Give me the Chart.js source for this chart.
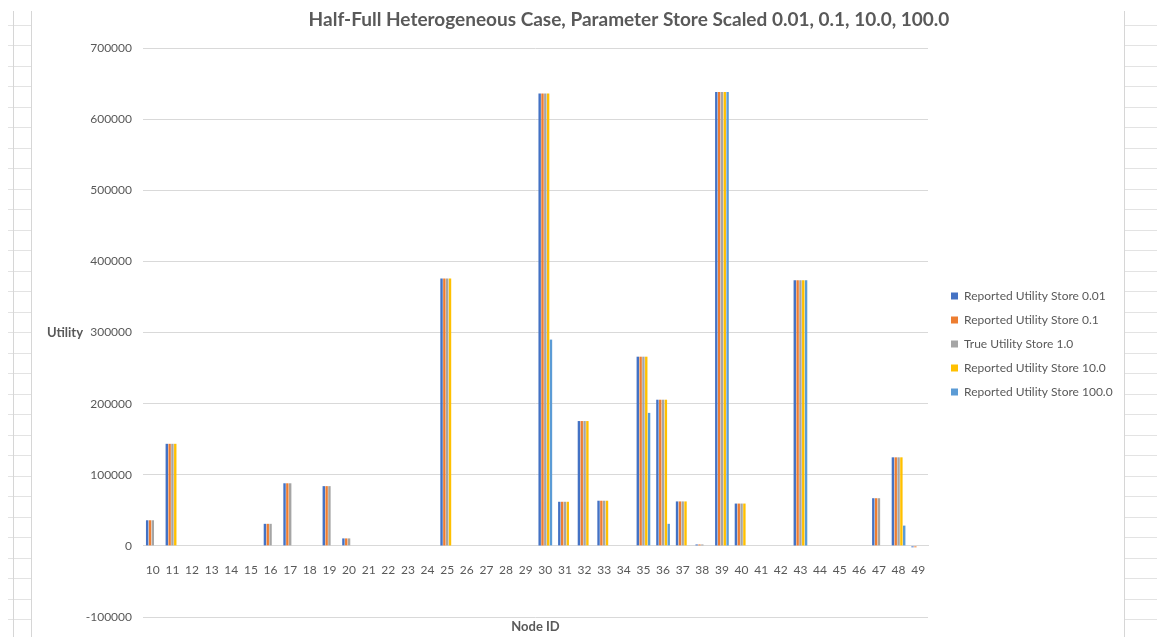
<!DOCTYPE html>
<html>
<head>
<meta charset="utf-8">
<script src="https://cdn.jsdelivr.net/npm/chart.js@4/dist/chart.umd.min.js"></script>
<style>
  html, body { margin: 0; padding: 0; background: #ffffff; }
  #wrap { position: relative; width: 1157px; height: 637px; }
</style>
</head>
<body>
<div id="wrap"><canvas id="chart" width="1157" height="637"></canvas></div>
<script>
// Node IDs along the horizontal axis
const nodeIds = ['10','11','12','13','14','15','16','17','18','19',
                 '20','21','22','23','24','25','26','27','28','29',
                 '30','31','32','33','34','35','36','37','38','39',
                 '40','41','42','43','44','45','46','47','48','49'];

// Utility per node for each store scaling
const reportedStore001 = [36000,143500,0,0,0,0,31000,88000,0,84000,
                          10500,0,0,0,0,376000,0,0,0,0,
                          636000,62000,175500,63500,0,266000,205500,62500,2000,638000,
                          59500,0,0,373500,0,0,0,67000,124500,-2000];
const reportedStore01  = [36000,143500,0,0,0,0,31000,88000,0,84000,
                          10500,0,0,0,0,376000,0,0,0,0,
                          636000,62000,175500,63500,0,266000,205500,62500,2000,638000,
                          59500,0,0,373500,0,0,0,67000,124500,-2000];
const trueStore1       = [36000,143500,0,0,0,0,31000,88000,0,84000,
                          10500,0,0,0,0,376000,0,0,0,0,
                          636000,62000,175500,63500,0,266000,205500,62500,2000,638000,
                          59500,0,0,373500,0,0,0,67000,124500,0];
const reportedStore10  = [0,143500,0,0,0,0,0,0,0,0,
                          0,0,0,0,0,376000,0,0,0,0,
                          636000,62000,175500,63500,0,266000,205500,62500,0,638000,
                          59500,0,0,373500,0,0,0,0,124500,0];
const reportedStore100 = [0,0,0,0,0,0,0,0,0,0,
                          0,0,0,0,0,0,0,0,0,0,
                          290000,0,0,0,0,187000,31000,0,0,638000,
                          0,0,0,373500,0,0,0,0,28500,0];

const seriesNames = ['Reported Utility Store 0.01', 'Reported Utility Store 0.1',
                     'True Utility Store 1.0', 'Reported Utility Store 10.0',
                     'Reported Utility Store 100.0'];
const seriesColors = ['#4472C4', '#ED7D31', '#A5A5A5', '#FFC000', '#5B9BD5'];

const yTickMin = -100000;
const yTickMax = 700000;
const yTickStep = 100000;

const chartTitle = 'Half-Full Heterogeneous Case, Parameter Store Scaled 0.01, 0.1, 10.0, 100.0';
const yTitle = 'Utility';
const xTitle = 'Node ID';

const textGray = '#595959';
const gridGray = '#D9D9D9';

Chart.defaults.font.family = 'Lato, "Open Sans", sans-serif';
Chart.defaults.color = textGray;

// Worksheet cell lines showing around the embedded chart
const sheetGrid = {
  id: 'sheetGrid',
  beforeDraw(chart) {
    const ctx = chart.ctx;
    ctx.save();
    ctx.lineWidth = 1;
    ctx.strokeStyle = '#E3E3E3';
    for (let y = 24.5; y < 637; y += 20.5) {
      ctx.beginPath(); ctx.moveTo(8, Math.round(y) + 0.5); ctx.lineTo(31, Math.round(y) + 0.5); ctx.stroke();
      ctx.beginPath(); ctx.moveTo(1125, Math.round(y) + 0.5); ctx.lineTo(1157, Math.round(y) + 0.5); ctx.stroke();
    }
    ctx.strokeStyle = '#D6D6D6';
    ctx.beginPath(); ctx.moveTo(13.5, 11); ctx.lineTo(13.5, 637); ctx.stroke();
    ctx.beginPath(); ctx.moveTo(31.5, 11); ctx.lineTo(31.5, 637); ctx.stroke();
    ctx.beginPath(); ctx.moveTo(1124.5, 11); ctx.lineTo(1124.5, 637); ctx.stroke();
    ctx.restore();
  }
};

// Keeps the legend column at a fixed width so the plot keeps its right edge
const legendWidth = {
  id: 'legendWidth',
  beforeLayout(chart) {
    const lg = chart.legend;
    if (lg && !lg._fixedWidth) {
      const fit = lg.fit.bind(lg);
      lg.fit = function () { fit(); this.width = 180; };
      lg._fixedWidth = true;
    }
  }
};

// Chart title and axis titles
const titles = {
  id: 'titles',
  afterDraw(chart) {
    const ctx = chart.ctx;
    const area = chart.chartArea;
    ctx.save();
    ctx.fillStyle = textGray;
    ctx.textAlign = 'center';
    ctx.textBaseline = 'middle';
    ctx.font = 'bold 19px Lato, "Open Sans", sans-serif';
    ctx.fillText(chartTitle, 629, 20);
    ctx.font = 'bold 13px Lato, "Open Sans", sans-serif';
    ctx.fillText(yTitle, 65, chart.scales.y.getPixelForValue(300000));
    ctx.fillText(xTitle, (area.left + area.right) / 2, 627);
    ctx.restore();
  }
};

const datasets = [reportedStore001, reportedStore01, trueStore1, reportedStore10, reportedStore100]
  .map((values, i) => ({
    label: seriesNames[i],
    data: values,
    backgroundColor: seriesColors[i],
    borderWidth: 0,
    categoryPercentage: 0.72,
    barPercentage: 0.85
  }));

new Chart(document.getElementById('chart'), {
  type: 'bar',
  data: { labels: nodeIds, datasets },
  plugins: [sheetGrid, legendWidth, titles],
  options: {
    responsive: false,
    animation: false,
    layout: { padding: { top: 48, bottom: 20, left: 0, right: 38 } },
    plugins: {
      title: { display: false },
      tooltip: { enabled: false },
      legend: {
        position: 'right',
        title: { display: true, text: '', padding: 4.3, font: { size: 12 } },
        labels: {
          boxWidth: 7,
          boxHeight: 7,
          padding: 12,
          color: textGray,
          font: { size: 12 }
        }
      }
    },
    scales: {
      x: {
        position: { y: 0 },
        grid: { display: false },
        border: { display: true, color: gridGray },
        ticks: { padding: 9, autoSkip: false, maxRotation: 0, color: textGray, font: { size: 12 } }
      },
      y: {
        position: 'left',
        min: yTickMin,
        max: yTickMax,
        grid: { color: gridGray, drawTicks: false },
        border: { display: false },
        ticks: {
          stepSize: yTickStep,
          padding: 11,
          color: textGray,
          font: { size: 12 },
          callback: v => String(v)
        },
        afterFit(scale) { scale.width = 143; }
      },
      gap: {
        type: 'linear',
        position: 'right',
        display: true,
        grid: { display: false },
        border: { display: false },
        ticks: { display: false },
        afterFit(scale) { scale.width = 11; }
      }
    }
  }
});
</script>
</body>
</html>
